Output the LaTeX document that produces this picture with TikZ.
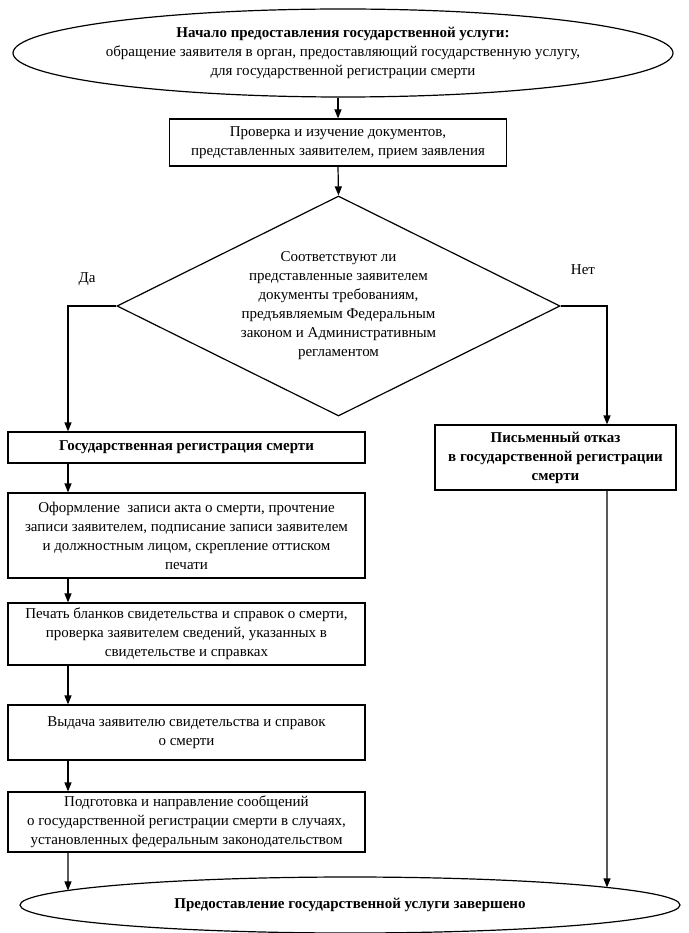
\documentclass[tikz,border=0pt]{standalone}
\usepackage{fontspec}
\setmainfont{Liberation Serif}
\usetikzlibrary{shapes.geometric,arrows.meta,intersections}
\begin{document}
\begin{tikzpicture}[x=1pt,y=-1pt,
  every node/.style={font=\fontsize{15}{19}\selectfont, align=center},
  box/.style={draw, line width=1.2pt, inner sep=0pt},
  lbox/.style={box, minimum width=357pt},
  arr/.style={-{Triangle[length=9pt,width=7pt]}, line width=1.2pt},
  lin/.style={line width=1.2pt}]
\useasboundingbox (0,0) rectangle (688,933);

\node[ellipse, draw, lin, minimum width=660pt, minimum height=88pt, inner xsep=-25pt, inner ysep=0pt] (start) at (343,53)
 {\textbf{Начало предоставления государственной услуги:}\\ обращение заявителя в орган, предоставляющий государственную услугу,\\ для государственной регистрации смерти};

\node[box, minimum width=337pt, minimum height=47pt] (check) at (338,142.5)
 {Проверка и изучение документов,\\ представленных заявителем, прием заявления};

\node[diamond, draw, lin, shape aspect=2, inner sep=0pt, minimum width=443pt, minimum height=220pt] (dec) at (338.5,306)
 {Соответствуют ли\\ представленные заявителем\\ документы требованиям,\\ предъявляемым Федеральным\\ законом и Административным\\ регламентом};

\node (da) at (87,279) {Да};
\node (net) at (583,270) {Нет};

\coordinate (lx) at (68,0);
\coordinate (rx) at (607,0);

\node[lbox, minimum height=31pt] (gos) at (186.5,447.5) {\textbf{Государственная регистрация смерти}};
\node[box, minimum width=241pt, minimum height=65pt] (otk) at (555.5,457.5)
 {\textbf{Письменный отказ}\\ \textbf{в государственной регистрации}\\ \textbf{смерти}};
\node[lbox, minimum height=85pt] (ofo) at (186.5,535.5)
 {Оформление\ \ записи акта о смерти, прочтение\\ записи заявителем, подписание записи заявителем\\ и должностным лицом, скрепление оттиском\\ печати};
\node[lbox, minimum height=62pt] (pech) at (186.5,634)
 {Печать бланков свидетельства и справок о смерти,\\ проверка заявителем сведений, указанных в\\ свидетельстве и справках};
\node[lbox, minimum height=55pt] (vyd) at (186.5,732.5)
 {Выдача заявителю свидетельства и справок\\ о смерти};
\node[lbox, minimum height=60pt] (pod) at (186.5,822)
 {Подготовка и направление сообщений\\ о государственной регистрации смерти в случаях,\\ установленных федеральным законодательством};

\node[ellipse, draw, lin, name path=endp, minimum width=660pt, minimum height=56pt, inner sep=0pt] (fin) at (350,905)
 {\textbf{Предоставление государственной услуги завершено}};

\draw[arr] (check |- start.south) -- (check.north);
\draw[arr] (check.south) -- (dec.north);
\draw[arr] (dec.west) -| (lx |- gos.north);
\draw[arr] (dec.east) -| (rx |- otk.north);
\draw[arr] (lx |- gos.south) -- (lx |- ofo.north);
\draw[arr] (lx |- ofo.south) -- (lx |- pech.north);
\draw[arr] (lx |- pech.south) -- (lx |- vyd.north);
\draw[arr] (lx |- vyd.south) -- (lx |- pod.north);
\path[name path=lpath] (lx |- pod.south) -- (lx |- fin.south);
\path[name path=rpath] (rx |- otk.south) -- (rx |- fin.south);
\path[name intersections={of=endp and lpath, by=lend}];
\path[name intersections={of=endp and rpath, by=rend}];
\draw[arr] (lx |- pod.south) -- (lend);
\draw[arr] (rx |- otk.south) -- (rend);
\end{tikzpicture}
\end{document}
